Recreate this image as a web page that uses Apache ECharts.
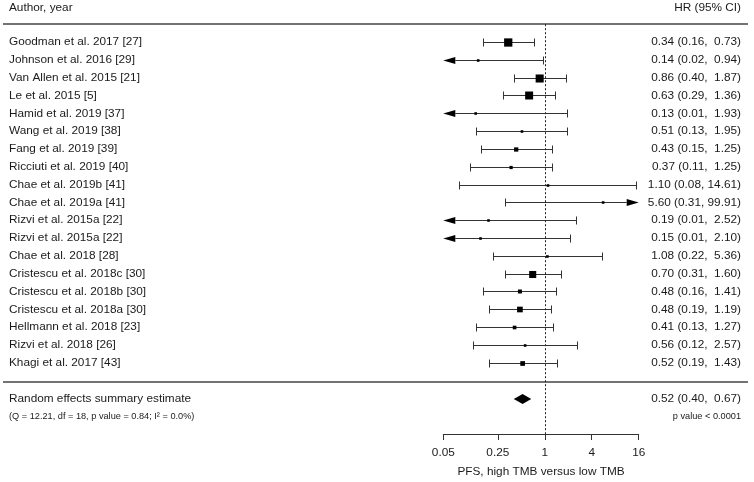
<!DOCTYPE html>
<html><head><meta charset="utf-8">
<script src="https://cdn.jsdelivr.net/npm/echarts@6/dist/echarts.min.js"></script>
<style>html,body{margin:0;padding:0;background:#fff}#c{width:754px;height:482px}</style>
</head><body><div id="c"></div>
<script>
// ---- data ----
const studies = ["Goodman et al. 2017 [27]", "Johnson et al. 2016 [29]", "Van Allen et al. 2015 [21]", "Le et al. 2015 [5]",
  "Hamid et al. 2019 [37]", "Wang et al. 2019 [38]", "Fang et al. 2019 [39]", "Ricciuti et al. 2019 [40]",
  "Chae et al. 2019b [41]", "Chae et al. 2019a [41]", "Rizvi et al. 2015a [22]", "Rizvi et al. 2015a [22]",
  "Chae et al. 2018 [28]", "Cristescu et al. 2018c [30]", "Cristescu et al. 2018b [30]", "Cristescu et al. 2018a [30]",
  "Hellmann et al. 2018 [23]", "Rizvi et al. 2018 [26]", "Khagi et al. 2017 [43]"];
const hr = [0.34, 0.14, 0.86, 0.63, 0.13, 0.51, 0.43, 0.37, 1.10, 5.60, 0.19, 0.15, 1.08, 0.70, 0.48, 0.48, 0.41, 0.56, 0.52];
const lo = [0.16, 0.02, 0.40, 0.29, 0.01, 0.13, 0.15, 0.11, 0.08, 0.31, 0.01, 0.01, 0.22, 0.31, 0.16, 0.19, 0.13, 0.12, 0.19];
const hi = [0.73, 0.94, 1.87, 1.36, 1.93, 1.95, 1.25, 1.25, 14.61, 99.91, 2.52, 2.10, 5.36, 1.60, 1.41, 1.19, 1.27, 2.57, 1.43];
const weights = [11.8, 1.8, 11.5, 11.4, 1.0, 3.7, 6.1, 4.6, 1.0, 0.8, 0.9, 1.0, 2.7, 10.1, 5.7, 8.1, 5.2, 2.9, 6.7];
const summaryHR = 0.52, summaryLo = 0.40, summaryHi = 0.67;
const summaryLabel = "Random effects summary estimate";
const heterogeneityText = "(Q = 12.21, df = 18, p value = 0.84; I\u00B2 = 0.0%)";
const summaryPText = "p value < 0.0001";
const headerLeft = "Author, year";
const headerRight = "HR (95% CI)";
const tickValues = [0.05, 0.25, 1, 4, 16];
const tickLabels = ["0.05", "0.25", "1", "4", "16"];
const axisTitle = "PFS, high TMB versus low TMB";

// ---- layout helpers ----
const L = Math.log2;
const xMin = L(0.05), xMax = L(16);
const ROW_HEADER = -1.9, ROW_TOPLINE = -1, ROW_SEP = 19.06, ROW_SUM = 20.03, ROW_STATS = 21.03;
const FONT = '"Liberation Sans", Arial, Helvetica, sans-serif';
const TXT = '#1a1a1a';
const MAIN_SIZE = 11.8, SMALL_SIZE = 9.2;

function fmtCI(e, l, h) {
  const hs = h.toFixed(2);
  return e.toFixed(2) + ' (' + l.toFixed(2) + ',' + (hs.length < 5 ? '  ' : ' ') + hs + ')';
}

const studyData = studies.map((s, i) => [i, L(hr[i]), L(lo[i]), L(hi[i]), weights[i]]);
const textRows = [
  { row: ROW_HEADER, left: headerLeft, right: headerRight, size: MAIN_SIZE },
  ...studies.map((s, i) => ({ row: i, left: s, right: fmtCI(hr[i], lo[i], hi[i]), size: MAIN_SIZE })),
  { row: ROW_SUM, left: summaryLabel, right: fmtCI(summaryHR, summaryLo, summaryHi), size: MAIN_SIZE },
  { row: ROW_STATS, left: heterogeneityText, right: summaryPText, size: SMALL_SIZE }
];

function crisp(v) { return Math.round(v) + 0.5; }

function renderStudy(params, api) {
  const row = api.value(0), e = api.value(1), l = api.value(2), h = api.value(3), w = api.value(4);
  const leftArrow = l < xMin, rightArrow = h > xMax;
  const pL = api.coord([Math.max(l, xMin), row]);
  const pH = api.coord([Math.min(h, xMax), row]);
  const pE = api.coord([e, row]);
  const y = crisp(pE[1]);
  const stroke = '#333';
  const AL = 12, AH = 3.6, CAP = 4;
  const ch = [];
  const x1 = leftArrow ? pL[0] + AL : crisp(pL[0]);
  const x2 = rightArrow ? pH[0] - AL : crisp(pH[0]);
  ch.push({ type: 'line', shape: { x1: x1, y1: y, x2: x2, y2: y }, style: { stroke: stroke, lineWidth: 1 } });
  if (leftArrow) ch.push({ type: 'polygon', shape: { points: [[pL[0], y], [pL[0] + AL, y - AH], [pL[0] + AL, y + AH]] }, style: { fill: '#000' } });
  else ch.push({ type: 'line', shape: { x1: crisp(pL[0]), y1: y - CAP, x2: crisp(pL[0]), y2: y + CAP }, style: { stroke: stroke, lineWidth: 1 } });
  if (rightArrow) ch.push({ type: 'polygon', shape: { points: [[pH[0], y], [pH[0] - AL, y - AH], [pH[0] - AL, y + AH]] }, style: { fill: '#000' } });
  else ch.push({ type: 'line', shape: { x1: crisp(pH[0]), y1: y - CAP, x2: crisp(pH[0]), y2: y + CAP }, style: { stroke: stroke, lineWidth: 1 } });
  const s = Math.max(2.6, w * 0.7);
  ch.push({ type: 'rect', shape: { x: pE[0] - s / 2, y: y - s / 2, width: s, height: s }, style: { fill: '#000' } });
  return { type: 'group', children: ch };
}

function renderDiamond(params, api) {
  const row = api.value(0);
  const pE = api.coord([api.value(1), row]);
  const pL = api.coord([api.value(2), row]);
  const pH = api.coord([api.value(3), row]);
  const y = pE[1], H = 5;
  return { type: 'polygon', shape: { points: [[pL[0], y], [pE[0], y - H], [pH[0], y], [pE[0], y + H]] }, style: { fill: '#000' } };
}

function renderText(params, api) {
  const t = textRows[params.dataIndex];
  const pl = api.coord([0, t.row]);
  const pr = api.coord([1, t.row]);
  const font = t.size + 'px ' + FONT;
  return { type: 'group', children: [
    { type: 'text', x: pl[0] + 6, y: pl[1], style: { text: t.left, fill: TXT, font: font, align: 'left', verticalAlign: 'middle', textAlign: 'left', textVerticalAlign: 'middle' } },
    { type: 'text', x: pr[0] - 7, y: pr[1], style: { text: t.right, fill: TXT, font: font, align: 'right', verticalAlign: 'middle', textAlign: 'right', textVerticalAlign: 'middle' } }
  ] };
}

const chart = echarts.init(document.getElementById('c'), null, { renderer: 'canvas' });
const yAxisBase = { type: 'value', inverse: true, min: -2, max: 22, show: false, axisLine: { onZero: false } };
chart.setOption({
  animation: false,
  backgroundColor: '#fff',
  grid: [
    { left: 443.3, right: 115.3, top: 6.36, bottom: 48, outerBoundsMode: 'none', containLabel: false },
    { left: 3, right: 6, top: 6.36, bottom: 48, outerBoundsMode: 'none', containLabel: false }
  ],
  xAxis: [
    { gridIndex: 0, type: 'value', min: xMin, max: xMax,
      axisLine: { show: true, onZero: false, lineStyle: { color: '#333', width: 1 } },
      axisTick: { show: true, customValues: tickValues.map(L), length: 6, inside: false, lineStyle: { color: '#333', width: 1 } },
      axisLabel: { show: true, customValues: tickValues.map(L), margin: 13, color: TXT, fontSize: MAIN_SIZE, fontFamily: FONT,
        formatter: v => { const i = tickValues.findIndex(t => Math.abs(L(t) - v) < 1e-6); return i >= 0 ? tickLabels[i] : ''; } },
      splitLine: { show: false },
      name: axisTitle, nameLocation: 'middle', nameGap: 32, nameMoveOverlap: false,
      nameTextStyle: { color: TXT, fontSize: MAIN_SIZE, fontFamily: FONT } },
    { gridIndex: 1, type: 'value', min: 0, max: 1, show: false }
  ],
  yAxis: [
    Object.assign({ gridIndex: 0 }, yAxisBase),
    Object.assign({ gridIndex: 1 }, yAxisBase)
  ],
  series: [
    { type: 'custom', xAxisIndex: 1, yAxisIndex: 1, silent: true, clip: false,
      data: textRows.map(t => [0, t.row]), encode: { x: 0, y: 1 }, renderItem: renderText,
      markLine: { silent: true, symbol: ['none', 'none'], label: { show: false },
        lineStyle: { color: '#444', width: 1.6, type: 'solid' },
        data: [
          [{ coord: [0, ROW_TOPLINE] }, { coord: [1, ROW_TOPLINE] }],
          [{ coord: [0, ROW_SEP] }, { coord: [1, ROW_SEP] }]
        ] } },
    { type: 'custom', xAxisIndex: 0, yAxisIndex: 0, silent: true, clip: false,
      data: studyData, encode: { x: [1, 2, 3], y: 0 }, renderItem: renderStudy,
      markLine: { silent: true, symbol: ['none', 'none'], label: { show: false },
        lineStyle: { color: '#222', width: 1, type: [2, 2] },
        data: [[{ coord: [L(1), ROW_TOPLINE] }, { coord: [L(1), 22] }]] } },
    { type: 'custom', xAxisIndex: 0, yAxisIndex: 0, silent: true, clip: false,
      data: [[ROW_SUM, L(summaryHR), L(summaryLo), L(summaryHi)]], encode: { x: [1, 2, 3], y: 0 }, renderItem: renderDiamond }
  ]
});
</script>
</body></html>
